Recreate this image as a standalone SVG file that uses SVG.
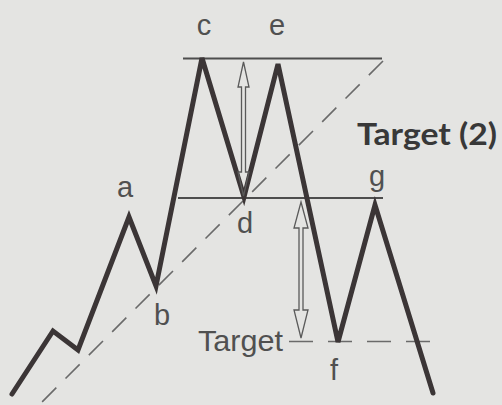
<svg xmlns="http://www.w3.org/2000/svg" width="502" height="405" viewBox="0 0 502 405">
<style>
.lbl{font-family:"Liberation Sans",Arial,sans-serif;font-size:29px;fill:#505050;text-anchor:middle}
.ref{stroke:#4d4d4d;stroke-width:2;fill:none}
.dash{stroke:#6a6a6a;stroke-width:1.6;fill:none}
.arrow{stroke:#5a5a5a;stroke-width:1.3;fill:none;stroke-linejoin:miter}
</style>
<rect width="502" height="405" fill="#e4e4e2"/>
<g id="connectors">
<line class="ref" x1="183" y1="58.5" x2="382" y2="58.5"/>
<line class="ref" x1="178" y1="198" x2="383" y2="198"/>
<path class="dash" d="M383,61 L37,407" stroke-dasharray="20 13"/>
<line class="dash" x1="289" y1="341.5" x2="432" y2="341.5" stroke-dasharray="24 15" stroke-width="1.8"/>
<polyline id="price" points="12,394 53,331 78,350 129,217 156,286 202,58 244,197 278,64 338,342 375,205 433,393" fill="none" stroke="#3b3536" stroke-width="5" stroke-linejoin="miter" stroke-linecap="round"/>
<path class="arrow" d="M243.5,62 L249,87 L245.5,87 L245.5,172 L249,172 L243.5,196 L238,172 L241.5,172 L241.5,87 L238,87 Z"/>
<path class="arrow" d="M301,202 L308,228 L303,228 L303,310 L308,310 L301,338 L294,310 L299,310 L299,228 L294,228 Z"/>
</g>
<g id="a"><text class="lbl" x="125" y="197">a</text></g>
<g id="b"><text class="lbl" x="162" y="325">b</text></g>
<g id="c"><text class="lbl" x="204" y="35">c</text></g>
<g id="d"><text class="lbl" x="245" y="233">d</text></g>
<g id="e"><text class="lbl" x="277" y="35">e</text></g>
<g id="f"><text class="lbl" x="334" y="380">f</text></g>
<g id="g"><text class="lbl" x="377" y="186">g</text></g>
<g id="target"><text class="lbl" x="198" y="351" style="text-anchor:start" textLength="85" lengthAdjust="spacingAndGlyphs">Target</text></g>
<g id="target2"><text x="357" y="145" font-family="Lato,'Open Sans',sans-serif" font-weight="bold" font-size="31" fill="#383838" textLength="140" lengthAdjust="spacingAndGlyphs">Target (2)</text></g>
</svg>
